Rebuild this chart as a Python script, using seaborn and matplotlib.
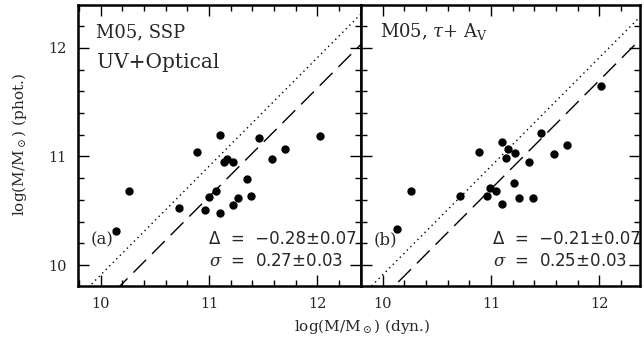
import numpy as np
import pandas as pd
import matplotlib
matplotlib.use("Agg")
import matplotlib.pyplot as plt
import seaborn as sns
from matplotlib.ticker import MultipleLocator

# ---- data ----
dyn_a = [10.14, 10.26, 10.72, 10.89, 10.96, 11.00, 11.06, 11.10, 11.10, 11.14,
         11.17, 11.22, 11.22, 11.27, 11.35, 11.39, 11.46, 11.58, 11.70, 12.02]
phot_a = [10.31, 10.68, 10.53, 11.04, 10.51, 10.63, 10.68, 10.48, 11.20, 10.95,
          10.98, 10.95, 10.55, 10.62, 10.79, 10.64, 11.17, 10.98, 11.07, 11.19]
dyn_b = [10.13, 10.26, 10.71, 10.89, 10.96, 10.99, 11.05, 11.10, 11.10, 11.14,
         11.16, 11.22, 11.21, 11.26, 11.35, 11.39, 11.46, 11.58, 11.70, 12.02]
phot_b = [10.33, 10.68, 10.64, 11.04, 10.64, 10.71, 10.68, 10.56, 11.13, 10.99,
          11.07, 11.03, 10.76, 10.62, 10.95, 10.62, 11.22, 11.02, 11.11, 11.65]

panel_titles = ["M05, SSP", r"M05, $\tau$+ A$_\mathregular{V}$"]
panel_tags = ["(a)", "(b)"]
delta_vals = [-0.28, -0.21]
delta_errs = [0.07, 0.07]
sigma_vals = [0.27, 0.25]
sigma_errs = [0.03, 0.03]
one_to_one_shift = -0.09   # 1:1 line as drawn in the reference
x_ticks = [10, 11, 12]
y_ticks = [10, 11, 12]

sns.set_style("ticks")
plt.rcParams["font.family"] = ["DejaVu Serif"]
plt.rcParams["mathtext.fontset"] = "dejavuserif"

W, H = 644, 343
fig = plt.figure(figsize=(W / 100, H / 100), dpi=100)
fig.patch.set_facecolor("white")

top_px, bot_px = 5.0, 285.7
ylim = (9.81, 12.395)
specs = [
    dict(x0=77.5, x1=361.0, xlim=(9.785, 12.403), x=dyn_a, y=phot_a),
    dict(x0=361.0, x1=640.0, xlim=(9.80, 12.376), x=dyn_b, y=phot_b),
]
sans = ["DejaVu Sans"]

for i, sp in enumerate(specs):
    ax = fig.add_axes([sp["x0"] / W, (H - bot_px) / H,
                       (sp["x1"] - sp["x0"]) / W, (bot_px - top_px) / H])
    ax.set_facecolor("white")
    df = pd.DataFrame({"dyn": sp["x"], "phot": sp["y"]})
    xl = np.array(sp["xlim"])
    lines = pd.DataFrame({"x": xl, "one": xl + one_to_one_shift,
                          "off": xl + one_to_one_shift + delta_vals[i]})
    ax.plot(lines["x"], lines["one"], color="black", lw=1.0,
            linestyle=(0, (1.0, 2.6)))
    ax.plot(lines["x"], lines["off"], color="black", lw=1.0,
            linestyle=(0, (13, 6)))
    sns.scatterplot(data=df, x="dyn", y="phot", ax=ax, color="black",
                    s=36, edgecolor="black", linewidth=0, zorder=3)
    ax.set_xlim(*sp["xlim"])
    ax.set_ylim(*ylim)
    ax.set_xticks(x_ticks)
    ax.set_yticks(y_ticks)
    ax.xaxis.set_minor_locator(MultipleLocator(0.2))
    ax.yaxis.set_minor_locator(MultipleLocator(0.2))
    ax.tick_params(which="both", direction="in", top=True, right=True,
                   bottom=True, left=True, width=1.0, color="black")
    ax.tick_params(which="major", length=8)
    ax.tick_params(which="minor", length=4)
    ax.tick_params(labelsize=10.5, pad=8)
    for s in ax.spines.values():
        s.set_linewidth(1.8)
        s.set_color("black")
    ax.set_xlabel("")
    ax.set_ylabel("")
    if i == 1:
        ax.tick_params(labelleft=False)

    fx = lambda px: (px - sp["x0"]) / (sp["x1"] - sp["x0"])
    fy = lambda py: (bot_px - py) / (bot_px - top_px)
    ax.text(fx(sp["x0"] + 19), fy(32), panel_titles[i], transform=ax.transAxes,
            fontsize=13, va="center", ha="left")
    if i == 0:
        ax.text(fx(sp["x0"] + 19), fy(63), "UV+Optical", transform=ax.transAxes,
                fontsize=14.5, va="center", ha="left")
    ax.text(fx(sp["x0"] + 13), fy(240), panel_tags[i], transform=ax.transAxes,
            fontsize=12, va="center", ha="left")
    ax.text(fx(sp["x0"] + 131.5), fy(239),
            "\u0394  =  \u2212%.2f\u00b1%.2f" % (abs(delta_vals[i]), delta_errs[i]),
            transform=ax.transAxes, fontsize=12, va="center", ha="left",
            family=sans)
    ax.text(fx(sp["x0"] + 131.5), fy(261),
            r"$\sigma$" + "  =  %.2f\u00b1%.2f" % (sigma_vals[i], sigma_errs[i]),
            transform=ax.transAxes, fontsize=12, va="center", ha="left",
            family=sans)

fig.text(362 / W, 1 - 327 / H, r"log(M/M$_\odot$) (dyn.)", ha="center",
         va="center", fontsize=11)
fig.text(20 / W, 1 - 145 / H, r"log(M/M$_\odot$) (phot.)", ha="center",
         va="center", fontsize=11, rotation=90)

fig.savefig("out.png", dpi=100, facecolor="white")
